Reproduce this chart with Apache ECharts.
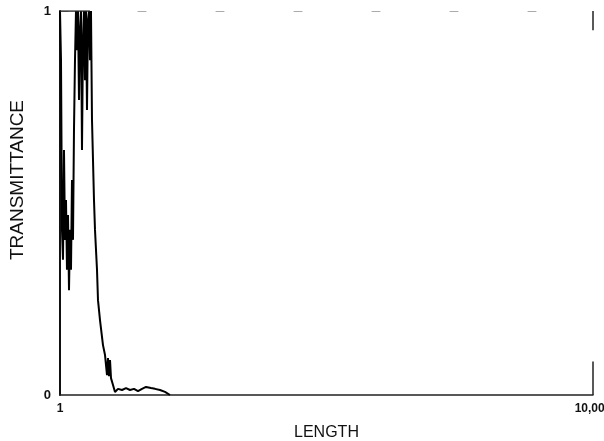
<!DOCTYPE html>
<html>
<head>
<meta charset="utf-8">
<script src="https://cdn.jsdelivr.net/npm/echarts@6/dist/echarts.min.js"></script>
<style>
  html, body { margin: 0; padding: 0; background: #fff; }
  #chart { width: 604px; height: 441px; }
</style>
</head>
<body>
<div id="chart"></div>
<script>
// Sample length (log scale) and measured transmittance
const lengths = [
  1.0, 1.0174, 1.0351, 1.0532, 1.0715, 1.0902, 1.1092, 1.1285, 1.1482, 1.1682,
  1.1885, 1.2092, 1.2302, 1.2516, 1.2734, 1.2956, 1.3182, 1.3412, 1.3645, 1.3883,
  1.4125, 1.4371, 1.4622, 1.4876, 1.5136, 1.5399, 1.5668, 1.5941, 1.6219, 1.6501,
  1.6789, 1.7082, 1.7383, 1.7686, 1.7994, 1.8308, 1.8627, 1.8952, 1.9282, 1.996,
  2.102, 2.177, 2.214, 2.253, 2.292, 2.332, 2.373, 2.414, 2.499, 2.587,
  2.725, 2.920, 3.129, 3.353, 3.593, 3.849, 4.125, 4.420, 4.575, 4.818,
  5.164, 5.629, 6.138, 6.692
];
const transmittance = [
  1.0, 0.872, 0.430, 0.352, 0.638, 0.404, 0.508, 0.326, 0.469, 0.273,
  0.430, 0.326, 0.560, 0.404, 0.690, 0.872, 1.0, 0.898, 1.0, 0.768,
  0.951, 1.0, 0.638, 0.924, 1.0, 0.820, 1.0, 0.742, 0.977, 1.0,
  0.872, 1.0, 0.716, 0.612, 0.508, 0.430, 0.378, 0.326, 0.247, 0.195,
  0.130, 0.104, 0.104, 0.052, 0.096, 0.049, 0.091, 0.044, 0.026, 0.008,
  0.016, 0.013, 0.018, 0.013, 0.016, 0.010, 0.016, 0.021, 0.026, 0.018,
  0.016, 0.013, 0.008, 0.0
];

// axis end labels
const xTickLabels = { 1: '1', 10000: '10,000' };
const yTickLabels = { 0: '0', 1: '1' };

// frame pieces: top-left solid run and right-hand stubs
const frameTop = [[1, 1], [1.68, 1]];
const frameRightLow = [[10000, 0], [10000, 0.087]];
const frameRightHigh = [[10000, 0.95], [10000, 1]];

const curve = lengths.map((x, i) => [x, transmittance[i]]);

const chart = echarts.init(document.getElementById('chart'));
const labelFont = 'Liberation Sans Narrow, Liberation Sans, Arial, sans-serif';

const frameSeries = data => ({
  type: 'line',
  data,
  showSymbol: false,
  silent: true,
  lineStyle: { color: '#222', width: 1.5 }
});

chart.setOption({
  backgroundColor: '#ffffff',
  animation: false,
  grid: { left: 60, right: 11, top: 11, bottom: 46, containLabel: false, outerBoundsMode: 'none' },
  xAxis: [{
    type: 'log',
    logBase: 10,
    min: 1,
    max: 10000,
    name: 'LENGTH',
    nameLocation: 'middle',
    nameGap: 30,
    nameTextStyle: { fontFamily: 'Liberation Sans, Arial, sans-serif', fontSize: 16, color: '#111' },
    axisLine: { lineStyle: { color: '#222', width: 1.5 } },
    axisTick: { show: false },
    splitLine: { show: false },
    axisLabel: {
      fontFamily: labelFont, fontSize: 12, fontWeight: 'bold', color: '#111', margin: 8,
      showMinLabel: true, showMaxLabel: true,
      formatter: v => xTickLabels[Math.round(v)] || ''
    }
  }, {
    type: 'log',
    logBase: 10,
    min: 1,
    max: 10000,
    position: 'top',
    axisLine: { lineStyle: { color: '#aaa', width: 1, type: [8, 70] } },
    axisTick: { show: false },
    axisLabel: { show: false },
    splitLine: { show: false }
  }],
  yAxis: {
    type: 'value',
    min: 0,
    max: 1,
    interval: 1,
    name: 'TRANSMITTANCE',
    nameLocation: 'middle',
    nameGap: 33,
    nameRotate: 90,
    nameTextStyle: {
      fontFamily: 'Liberation Sans, Arial, sans-serif', fontSize: 19, color: '#111',
      padding: [0, 0, 0, 46]
    },
    axisLine: { show: true, lineStyle: { color: '#111', width: 2 } },
    axisTick: { show: false },
    splitLine: { show: false },
    axisLabel: {
      fontFamily: labelFont, fontSize: 13, fontWeight: 'bold', color: '#111', margin: 9,
      formatter: v => yTickLabels[v] || ''
    }
  },
  series: [{
    type: 'line',
    data: curve,
    showSymbol: false,
    clip: true,
    lineStyle: { color: '#000', width: 2 },
    z: 3
  }, frameSeries(frameTop), frameSeries(frameRightLow), frameSeries(frameRightHigh)]
});
</script>
</body>
</html>
